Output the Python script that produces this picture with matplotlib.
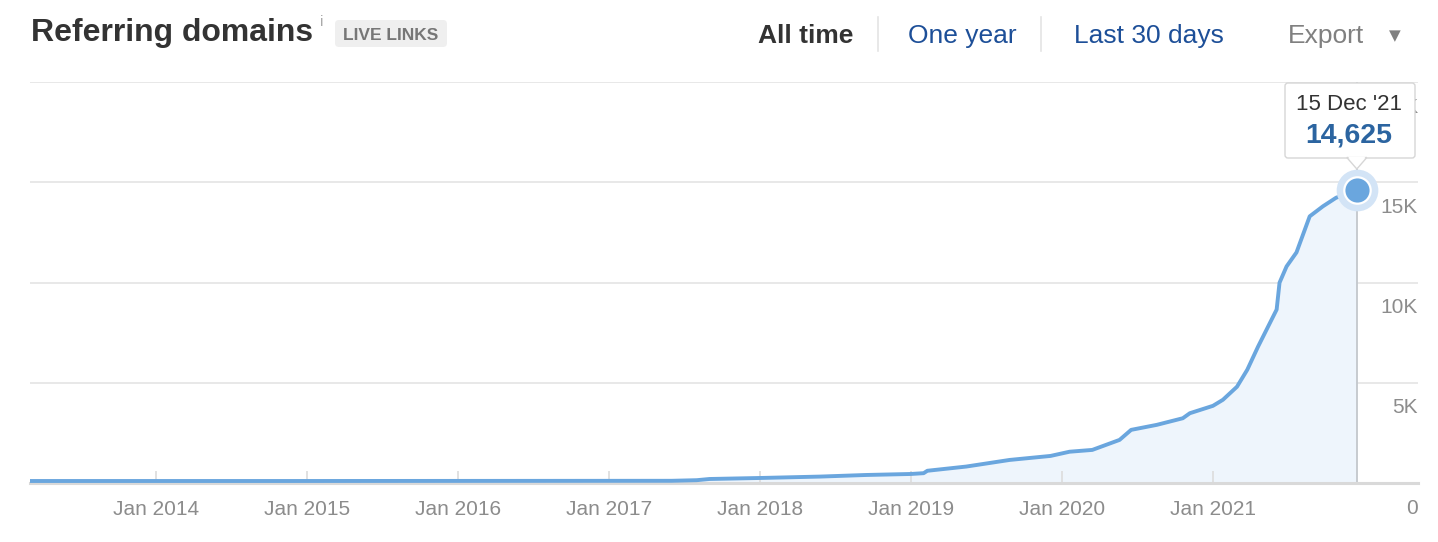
import matplotlib
matplotlib.use("Agg")
import matplotlib.pyplot as plt
import matplotlib.dates as mdates
from matplotlib.patches import FancyBboxPatch, Polygon
from matplotlib.transforms import IdentityTransform, blended_transform_factory, offset_copy
import numpy as np
import datetime as dt

plt.rcParams['font.family'] = ['Liberation Sans', 'DejaVu Sans']

# ---------------- data ----------------
dates = ["2013-03-02", "2014-12-01", "2017-06-01", "2017-08-01", "2017-09-01",
         "2018-01-01", "2018-05-26", "2018-09-15", "2019-01-01", "2019-02-01",
         "2019-02-10", "2019-05-15", "2019-08-28", "2019-12-05", "2020-01-20",
         "2020-03-15", "2020-05-20", "2020-06-17", "2020-08-18", "2020-10-20",
         "2020-11-06", "2021-01-01", "2021-01-25", "2021-02-28", "2021-03-25",
         "2021-04-20", "2021-06-04", "2021-06-11", "2021-06-28", "2021-07-22",
         "2021-08-23", "2021-09-24", "2021-10-26", "2021-11-20", "2021-12-15"]
values = [100, 100, 110, 140, 200,
          250, 320, 400, 450, 490,
          610, 820, 1150, 1350, 1560,
          1650, 2150, 2650, 2900, 3230,
          3480, 3850, 4150, 4800, 5650,
          6800, 8650, 9990, 10800, 11500,
          13300, 13800, 14230, 14400, 14625]
year_ticks = ["2014-01-01", "2015-01-01", "2016-01-01", "2017-01-01",
              "2018-01-01", "2019-01-01", "2020-01-01", "2021-01-01"]
year_labels = ["Jan 2014", "Jan 2015", "Jan 2016", "Jan 2017",
               "Jan 2018", "Jan 2019", "Jan 2020", "Jan 2021"]
y_grid = [5000, 10000, 15000, 20000]
y_labels = ["5K", "10K", "15K", "20K"]
x_start, x_end = "2013-03-02", "2022-05-12"
tooltip_date = "15 Dec '21"
tooltip_value = "14,625"

# ---------------- figure ----------------
W, H = 1438, 542
fig = plt.figure(figsize=(W / 100, H / 100), dpi=100)
fig.patch.set_facecolor("white")

def fx(x):
    return x / W

def fy(y):
    return 1 - y / H

ax = fig.add_axes([fx(30), fy(483), (1418 - 30) / W, (483 - 82) / H])
xd = [mdates.datestr2num(d) for d in dates]
ax.set_xlim(mdates.datestr2num(x_start), mdates.datestr2num(x_end))
ax.set_ylim(0, 20000)

line_c = "#6aa6de"
ax.fill_between(xd, values, 0, color="#eef5fc", zorder=1, lw=0)
ax.plot(xd, values, color=line_c, lw=2.8, zorder=4, solid_joinstyle="round")

# grid
for g in y_grid:
    ax.axhline(g, color="#e6e6e6", lw=1.3, zorder=0)
for s in ["top", "left", "right"]:
    ax.spines[s].set_visible(False)
ax.spines["bottom"].set_color("#d9d9d9")
ax.spines["bottom"].set_linewidth(2.2)
ax.spines["bottom"].set_zorder(3)

ax.set_yticks([])
ax.set_xticks([mdates.datestr2num(d) for d in year_ticks])
ax.set_xticklabels(year_labels)
ax.tick_params(axis="x", direction="in", length=9, width=1.2, color="#dcdcdc",
               labelsize=15, labelcolor="#8c8c8c", pad=12)

# y labels (inside, right, below gridline)
ytr = offset_copy(blended_transform_factory(ax.transAxes, ax.transData),
                  fig=fig, x=0, y=-25, units="dots")
for v, l in zip([0] + y_grid, ["0"] + y_labels):
    ax.text(1.0, v, l, transform=ytr, ha="right", va="center",
            fontsize=15, color="#8c8c8c", zorder=2)

# vertical hover line and marker
xl, yl = xd[-1], values[-1]
ax.axvline(xl, color="#c3c7cc", lw=1.3, zorder=2)
ax.plot([xl], [yl], "o", ms=30, color="#d3e4f6", mec="none", zorder=5)
ax.plot([xl], [yl], "o", ms=19, color=line_c, mec="white", mew=1.6, zorder=6)

# tooltip (pixel coords, figure display space)
X0, Y0 = ax.transData.transform((xl, yl))
idt = IdentityTransform()
bl, br, bt, bb = 1285, 1415, 83, 158
box = FancyBboxPatch((bl, H - bb), br - bl, bb - bt,
                     boxstyle="round,pad=0,rounding_size=3",
                     transform=idt, fc="white", ec="#d6d6d6", lw=1.0, zorder=10)
fig.patches.append(box)
tri = Polygon([[X0 - 10, H - bb + 0.5], [X0 + 10, H - bb + 0.5], [X0, H - 169]],
              closed=True, transform=idt, fc="white", ec="#d6d6d6", lw=1.0, zorder=10)
fig.patches.append(tri)
cover = Polygon([[X0 - 9, H - bb + 1.5], [X0 + 9, H - bb + 1.5], [X0, H - 167]],
                closed=True, transform=idt, fc="white", ec="none", zorder=11)
fig.patches.append(cover)
fig.text(fx(1349), fy(104), tooltip_date, ha="center", va="center",
         fontsize=16, color="#333333", zorder=12)
fig.text(fx(1349), fy(135), tooltip_value, ha="center", va="center",
         fontsize=20.5, color="#2b64a0", fontweight="bold", zorder=12)

# header
fig.text(fx(31), fy(33), "Referring domains", ha="left", va="center",
         fontsize=23, fontweight="bold", color="#333333")
fig.text(fx(322), fy(22), "i", ha="center", va="center", fontsize=11, color="#aaaaaa")
badge = FancyBboxPatch((335, H - 47), 112, 27, boxstyle="round,pad=0,rounding_size=4",
                       transform=idt, fc="#efefef", ec="none", zorder=1)
fig.patches.append(badge)
fig.text(fx(391), fy(35), "LIVE LINKS", ha="center", va="center",
         fontsize=12.5, fontweight="bold", color="#777777", zorder=2)

fig.text(fx(806), fy(36), "All time", ha="center", va="center",
         fontsize=19, fontweight="bold", color="#333333")
fig.text(fx(962), fy(36), "One year", ha="center", va="center",
         fontsize=19, color="#1d4f98")
fig.text(fx(1149), fy(36), "Last 30 days", ha="center", va="center",
         fontsize=19, color="#1d4f98")
fig.text(fx(1326), fy(36), "Export", ha="center", va="center",
         fontsize=19, color="#808080")
fig.text(fx(1395), fy(36), "\u25BC", ha="center", va="center",
         fontsize=11, color="#808080", family=["DejaVu Sans"])
for sx in [878, 1041]:
    fig.add_artist(plt.Line2D([fx(sx), fx(sx)], [fy(17), fy(51)],
                              color="#e4e4e4", lw=1.2, transform=fig.transFigure))

fig.savefig("out.png", dpi=100, facecolor="white")
